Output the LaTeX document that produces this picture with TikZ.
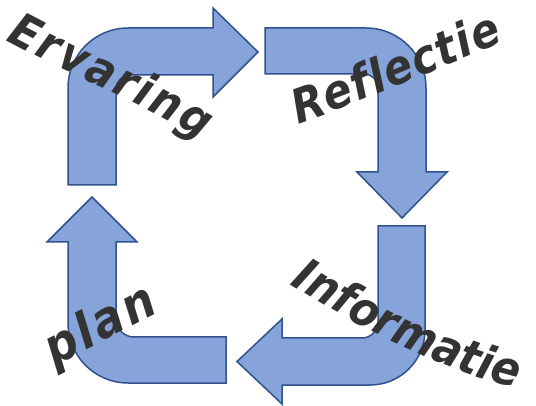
\documentclass[tikz,border=0pt]{standalone}
\usepackage{fontspec}
\newfontfamily\cyclefont{DejaVu Sans Condensed}
\usetikzlibrary{decorations.text}
\definecolor{arrowfill}{RGB}{134,164,218}
\definecolor{arrowline}{RGB}{47,82,143}
\definecolor{wordgray}{RGB}{51,51,51}
\newcommand\cyclewordfont{\cyclefont\bfseries\itshape\fontsize{47}{47}\selectfont}
\newcommand\cyclewordfontbig{\cyclefont\bfseries\itshape\fontsize{50}{50}\selectfont}
\begin{document}
\begin{tikzpicture}[x=1pt,y=-1pt,
  bentarrow/.style={fill=arrowfill, draw=arrowline, line width=1.5pt, line join=miter},
  cycleword/.style={decorate, decoration={text along path, text align={fit to path}, text color=wordgray}}
]
\useasboundingbox (0,0) rectangle (536,406);

% top-left: up then right
\path[bentarrow] (68,185) -- (68,88) .. controls (68,54.9) and (94.9,28) .. (128,28)
  -- (213,28) -- (213,8) -- (258,52) -- (213,97) -- (213,75) -- (130,75)
  .. controls (122.3,75) and (116,81.3) .. (116,89) -- (116,185) -- cycle;

% top-right: right then down
\path[bentarrow] (265,28) -- (366,28) .. controls (399.1,28) and (426,54.9) .. (426,88)
  -- (426,172) -- (447,172) -- (402,218) -- (357,172) -- (378,172) -- (378,88)
  .. controls (378,80.3) and (371.7,74) .. (364,74) -- (265,74) -- cycle;

% bottom-right: down then left
\path[bentarrow] (378,226) -- (425,226) -- (425,330) .. controls (425,360.4) and (400.4,385) .. (370,385)
  -- (282,385) -- (282,404) -- (237,361.5) -- (282,319) -- (282,338) -- (362,338)
  .. controls (370.8,338) and (378,330.8) .. (378,322) -- cycle;

% bottom-left: left then up
\path[bentarrow] (226,337) -- (226,383) -- (128,383) .. controls (94.9,383) and (68,356.1) .. (68,323)
  -- (68,242) -- (47,242) -- (92,197) -- (137,242) -- (116,242) -- (116,319)
  .. controls (116,328.9) and (124.1,337) .. (134,337) -- cycle;

% words along curved baselines
\path[cycleword, decoration={text={|\cyclewordfont|Ervaring}}]
  (6,40) .. controls (60,70) and (140,102) .. (202,140);
\path[cycleword, decoration={text={|\cyclewordfont|Reflectie}}]
  (298,124) .. controls (350,107) and (430,72) .. (504,42);
\path[cycleword, decoration={text={|\cyclewordfont|Informatie}}]
  (290,284) .. controls (350,322) and (430,367) .. (516,388);
\path[cycleword, decoration={text={|\cyclewordfontbig|plan}}]
  (54,366) .. controls (90,348) and (125,330) .. (160,312);
\end{tikzpicture}
\end{document}
